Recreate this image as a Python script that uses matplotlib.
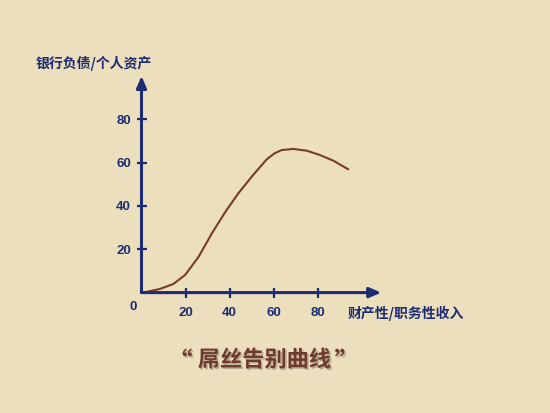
import matplotlib
matplotlib.use("Agg")
import matplotlib.pyplot as plt
import matplotlib.patheffects as pe

# ---- data ----
income_ratio = [0.8, 8.4, 14.5, 19.8, 25.8, 28.8, 31.9, 38.0, 44.0, 50.1, 56.9,
                60.5, 63.7, 69.0, 75.1, 81.1, 87.2, 94.0]
debt_ratio = [0.0, 1.7, 4.0, 8.1, 16.3, 21.6, 27.2, 37.1, 45.8, 53.5, 61.5,
              64.3, 65.8, 66.3, 65.5, 63.5, 60.9, 56.9]
x_ticks = [20, 40, 60, 80]
y_ticks = [20, 40, 60, 80]
x_label = "财产性/职务性收入"
y_label = "银行负债/个人资产"
title_core = "屌丝告别曲线"
quote_open = "“"
quote_close = "”"

NAVY = "#1c2c73"
BROWN = "#7a3b2c"
TITLE_C = "#6e3a2e"
BG = "#ecdfbd"
CJK = ["Noto Sans CJK SC", "DejaVu Sans"]

fig = plt.figure(figsize=(5.5, 4.13), dpi=100, facecolor=BG)
ax = fig.add_axes([141.5 / 550, 120.4 / 413, 242 / 550, 221 / 413])
ax.set_facecolor("none")
ax.set_xlim(0, 110)
ax.set_ylim(0, 102)
for s in ax.spines.values():
    s.set_visible(False)

# axes arrows
arrow_kw = dict(arrowstyle="-|>,head_length=0.7,head_width=0.3",
                color=NAVY, lw=2.2, shrinkA=0, shrinkB=0)
ax.annotate("", xy=(109, 0), xytext=(0, 0), arrowprops=arrow_kw,
            annotation_clip=False)
ax.annotate("", xy=(0, 100), xytext=(0, 0), arrowprops=arrow_kw,
            annotation_clip=False)

ax.set_xticks(x_ticks)
ax.set_yticks(y_ticks)
ax.set_xticklabels([str(v) for v in x_ticks])
ax.set_yticklabels([str(v) for v in y_ticks])
ax.tick_params(axis="x", direction="inout", length=7, width=1.6, color=NAVY,
               labelcolor=NAVY, pad=7)
ax.tick_params(axis="y", direction="inout", length=7, width=1.6, color=NAVY,
               labelcolor=NAVY, pad=4)
for lab in ax.get_xticklabels() + ax.get_yticklabels():
    lab.set_fontfamily("Liberation Sans")
    lab.set_fontweight("bold")
    lab.set_fontsize(9.5)

# curve
ax.plot(income_ratio, debt_ratio, color=BROWN, lw=1.5,
        solid_capstyle="round", solid_joinstyle="round")

# texts in figure pixels
def fx(px):
    return px / 550

def fy(py):
    return 1 - py / 413

fig.text(fx(133), fy(307), "0", color=NAVY, fontsize=9.5, fontweight="bold",
         family="Liberation Sans", ha="center", va="center")
fig.text(fx(36), fy(63), y_label, color=NAVY, fontsize=10, fontweight="bold",
         family=CJK, ha="left", va="center")
fig.text(fx(348), fy(313), x_label, color=NAVY, fontsize=10, fontweight="bold",
         family=CJK, ha="left", va="center")

shadow = [pe.withSimplePatchShadow(offset=(1.2, -1.2),
                                   shadow_rgbFace="#9a8a78", alpha=0.6)]
t = fig.text(fx(264.5), fy(360), title_core, color=TITLE_C, fontsize=16,
             fontweight="bold", family=CJK, ha="center", va="center")
t.set_path_effects(shadow)
q1 = fig.text(fx(180), fy(363), quote_open, color=TITLE_C, fontsize=18,
              fontweight="bold", family=CJK, ha="center", va="center")
q1.set_path_effects(shadow)
q2 = fig.text(fx(347), fy(363), quote_close, color=TITLE_C, fontsize=18,
              fontweight="bold", family=CJK, ha="center", va="center")
q2.set_path_effects(shadow)

fig.savefig("out.png", dpi=100, facecolor=BG)
